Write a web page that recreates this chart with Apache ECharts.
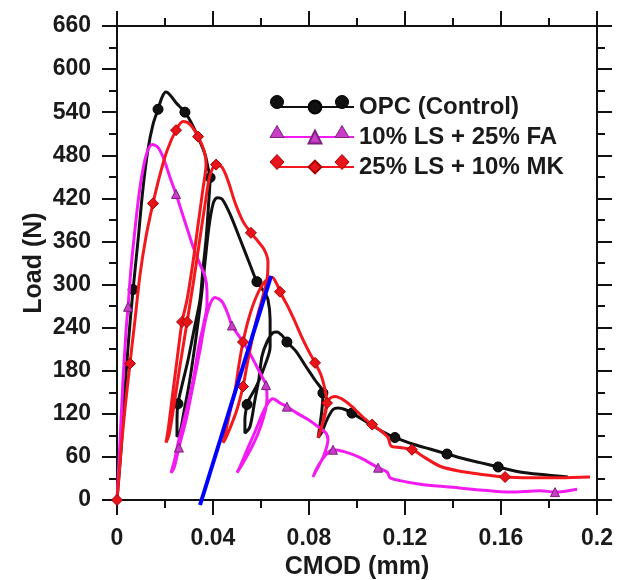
<!DOCTYPE html>
<html><head><meta charset="utf-8">
<script src="https://cdn.jsdelivr.net/npm/echarts@6/dist/echarts.min.js"></script>
<style>html,body{margin:0;padding:0;background:#fff}#c{width:621px;height:580px}</style>
</head><body><div id="c"></div>
<script>
// ---------- data ----------
const seriesNames = ['OPC (Control)', '10% LS + 25% FA', '25% LS + 10% MK'];
const xTickLabels = ['0', '0.04', '0.08', '0.12', '0.16', '0.2'];
const yTickLabels = ['0', '60', '120', '180', '240', '300', '360', '420', '480', '540', '600', '660'];
const xTitle = 'CMOD (mm)';
const yTitle = 'Load (N)';

// OPC (Control): CMOD (mm), Load (N)
const opcCurve = [
  [0,0],[0.0017,70],[0.0033,153],[0.005,230],[0.0067,293],[0.0088,363],[0.0108,433],[0.0129,488],[0.015,523],
  [0.0171,544],[0.0188,561],[0.0204,568],[0.0221,564],[0.0246,553],[0.0283,540],[0.0313,523],[0.0342,502],
  [0.0367,481],[0.0379,463],[0.0388,449],
  [0.0383,419],[0.0371,363],[0.0358,321],[0.0346,279],[0.0321,237],[0.0296,195],[0.0271,160],[0.0254,134],
  [0.025,112],[0.025,88],
  [0.0263,95],[0.0279,123],[0.03,160],[0.0325,216],[0.035,279],[0.0367,332],[0.0383,380],[0.04,412],[0.0417,421],
  [0.0438,419],[0.0471,398],[0.0513,363],[0.0554,328],[0.0583,304],[0.0613,290],[0.0629,279],
  [0.0638,251],[0.0638,213],[0.0617,188],[0.0583,160],[0.055,140],[0.0542,133],[0.0533,112],[0.0533,93],
  [0.0554,102],[0.0575,140],[0.0592,170],[0.0604,200],[0.0625,220],[0.065,233],[0.0667,234],
  [0.0688,229],[0.0708,220],[0.0746,207],[0.0783,188],[0.0825,167],[0.0858,149],
  [0.0854,126],[0.0846,105],[0.0838,87],
  [0.0854,95],[0.0875,112],[0.09,126],[0.0921,128],[0.095,126],[0.0979,121],[0.1033,110],[0.1108,95],
  [0.1158,87],[0.1242,77],[0.1304,71],[0.1375,64],[0.145,57],[0.1513,52],[0.1588,46],[0.1679,39],
  [0.1783,35],[0.1879,32]
];
const opcMarks = [
  [0.0067,293],[0.0171,544],[0.0283,540],[0.0388,449],[0.0254,134],[0.0583,304],[0.0542,133],
  [0.0708,220],[0.0858,149],[0.0979,121],[0.1158,87],[0.1375,64],[0.1588,46]
];

// 10% LS + 25% FA
const lsfaCurve = [
  [0,0],[0.0013,84],[0.0025,167],[0.0038,237],[0.0046,269],[0.0058,321],[0.0075,377],[0.0092,426],
  [0.0108,460],[0.0125,484],[0.0146,495],[0.0171,491],[0.0196,474],[0.0221,449],[0.0246,426],[0.0271,400],
  [0.0296,374],[0.0321,349],[0.0346,328],[0.0367,311],[0.0375,290],[0.0375,272],
  [0.0363,248],[0.0342,216],[0.0317,167],[0.0288,123],[0.0258,84],[0.0238,53],[0.0225,38],
  [0.0238,45],[0.0258,73],[0.0288,112],[0.0317,160],[0.0346,209],[0.0367,248],[0.0388,273],[0.0408,282],
  [0.0438,276],[0.0463,258],[0.0479,243],[0.0513,226],[0.0546,209],[0.0579,188],[0.0604,172],[0.0621,160],
  [0.0625,142],[0.0617,123],[0.0596,100],[0.0567,77],[0.0533,56],[0.0508,42],[0.05,38],
  [0.0513,47],[0.0542,70],[0.0575,95],[0.0604,119],[0.0629,135],[0.065,141],
  [0.0679,135],[0.0708,130],[0.075,121],[0.0796,112],[0.0838,102],[0.0871,93],
  [0.0879,84],[0.0863,63],[0.0838,46],[0.0821,35],[0.0817,32],
  [0.0829,42],[0.0854,56],[0.0879,66],[0.09,70],[0.095,67],[0.1013,59],[0.1088,45],[0.1125,39],
  [0.1138,31],[0.1179,27],[0.1263,22],[0.1388,18],[0.1513,14],[0.1638,11],[0.1763,13],[0.1825,11],[0.1917,15]
];
const lsfaMarks = [
  [0.0046,269],[0.0246,426],[0.0258,73],[0.0479,243],[0.0621,160],[0.0708,130],[0.09,70],[0.1088,45],[0.1825,11]
];

// 25% LS + 10% MK
const lsmkCurve = [
  [0,0],[0.0017,70],[0.0033,126],[0.0054,190],[0.0075,251],[0.0096,314],[0.0121,367],[0.015,413],
  [0.0179,453],[0.0208,486],[0.0246,515],[0.0275,527],[0.0304,523],[0.0338,506],[0.0363,486],[0.0371,467],
  [0.0358,433],[0.0338,384],[0.0317,332],[0.0292,279],[0.0271,248],[0.025,195],[0.0229,140],[0.0213,98],[0.0204,80],
  [0.0217,91],[0.0238,133],[0.0263,188],[0.0292,248],[0.0317,300],[0.0342,356],[0.0367,412],[0.0388,453],[0.0413,467],
  [0.0438,463],[0.0463,444],[0.0492,414],[0.0525,388],[0.0558,372],[0.0588,360],[0.0613,349],[0.0629,332],
  [0.0625,307],[0.0604,279],[0.0579,248],[0.0554,209],[0.0538,181],[0.0525,158],[0.05,126],[0.0471,100],[0.045,84],[0.0442,80],
  [0.045,91],[0.0471,123],[0.0492,153],[0.0508,188],[0.0525,220],[0.055,254],[0.0579,282],[0.0613,303],[0.0646,310],
  [0.0667,300],[0.0679,290],[0.0708,272],[0.0738,251],[0.0767,229],[0.0796,209],[0.0825,191],[0.085,174],[0.0867,153],[0.0875,135],
  [0.0867,119],[0.085,100],[0.0838,87],
  [0.085,98],[0.0867,123],[0.0883,140],[0.0908,144],[0.095,138],[0.0992,126],[0.1029,114],[0.1063,105],[0.1104,95],
  [0.1129,87],[0.1142,75],[0.1179,73],[0.1229,70],[0.1283,59],[0.1346,47],[0.1429,40],[0.1513,36],[0.1617,32],
  [0.1721,31],[0.1846,31],[0.1971,32]
];
const lsmkMarks = [
  [0,0],[0.0054,190],[0.015,413],[0.0246,515],[0.0338,506],[0.0271,248],[0.0292,248],[0.0413,467],[0.0558,372],
  [0.0525,158],[0.0525,220],[0.0679,290],[0.0825,191],[0.0875,135],[0.1063,105],[0.1229,70],[0.1617,32]
];

// straight reference line (blue)
const blueLine = [[0.0346,-7],[0.0642,312]];

// ---------- chart ----------
const FONT = "'Liberation Sans', Arial, Helvetica, sans-serif";
const TXT = '#1a1a1a';
const colors = ['#111111', '#f21cf2', '#f2181e'];
const markFill = ['#111111', '#c83cc8', '#e8141c'];
const markBorder = ['#000000', '#7d1f7d', '#a80000'];
const symbols = ['circle', 'triangle', 'diamond'];
const symSizes = [10, 9, 11];

const axisLineStyle = { color: '#111', width: 2 };
const tickStyle = { width: 2, color: '#111' };
function xAxisCfg(pos, labels) {
  return {
    type: 'value', position: pos, min: 0, max: 0.2, interval: 0.04,
    axisLine: { show: true, onZero: false, lineStyle: axisLineStyle },
    axisTick: { show: true, inside: false, length: 15, lineStyle: tickStyle },
    minorTick: { show: true, splitNumber: 2, length: 8, lineStyle: tickStyle },
    splitLine: { show: false }, minorSplitLine: { show: false },
    axisLabel: labels ? {
      show: true, margin: 27, color: TXT, fontFamily: FONT, fontWeight: 'bold', fontSize: 23,
      formatter: (v, i) => xTickLabels[i]
    } : { show: false },
    name: labels ? xTitle : '', nameLocation: 'middle', nameGap: 55, nameMoveOverlap: false,
    nameTextStyle: { color: TXT, fontFamily: FONT, fontWeight: 'bold', fontSize: 25 }
  };
}
function yAxisCfg(pos, labels) {
  return {
    type: 'value', position: pos, min: 0, max: 660, interval: 60,
    axisLine: { show: true, onZero: false, lineStyle: axisLineStyle },
    axisTick: { show: true, inside: false, length: 15, lineStyle: tickStyle },
    minorTick: { show: true, splitNumber: 2, length: 8, lineStyle: tickStyle },
    splitLine: { show: false }, minorSplitLine: { show: false },
    axisLabel: labels ? {
      show: true, margin: 26, color: TXT, fontFamily: FONT, fontWeight: 'bold', fontSize: 23,
      formatter: (v, i) => yTickLabels[i]
    } : { show: false },
    name: labels ? yTitle : '', nameLocation: 'middle', nameGap: 70, nameRotate: 90, nameMoveOverlap: false,
    nameTextStyle: { color: TXT, fontFamily: FONT, fontWeight: 'bold', fontSize: 25 }
  };
}

const curves = [opcCurve, lsfaCurve, lsmkCurve];
const marks = [opcMarks, lsfaMarks, lsmkMarks];
const series = [];
curves.forEach((c, i) => {
  series.push({
    name: seriesNames[i], type: 'line', data: c, smooth: 0.3,
    symbol: symbols[i], symbolSize: symSizes[i], showSymbol: false,
    lineStyle: { color: colors[i], width: 3 },
    itemStyle: { color: markFill[i], borderColor: markBorder[i], borderWidth: 1 },
    z: 2 + i, silent: true, animation: false
  });
});
marks.forEach((m, i) => {
  series.push({
    name: seriesNames[i], type: 'scatter', data: m,
    symbol: symbols[i], symbolSize: symSizes[i],
    itemStyle: { color: markFill[i], borderColor: markBorder[i], borderWidth: 1, opacity: 1 },
    z: 2 + i, silent: true, animation: false
  });
});
series.push({
  name: 'ref', type: 'line', data: blueLine, symbol: 'none', clip: false,
  lineStyle: { color: '#0000ff', width: 4 }, z: 10, silent: true, animation: false
});

// extra legend end markers (decoration, so each legend line shows three symbols like the original)
const legRows = [102, 132, 162];
const legEnds = [277, 342];
const graphics = [];
legRows.forEach((cy, i) => {
  legEnds.forEach(cx => {
    let el;
    if (i === 0) el = { type: 'circle', shape: { cx: cx, cy: cy, r: 6.5 } };
    else if (i === 1) el = { type: 'polygon', shape: { points: [[cx, cy - 6.5], [cx + 7, cy + 5.5], [cx - 7, cy + 5.5]] } };
    else el = { type: 'polygon', shape: { points: [[cx, cy - 7.5], [cx + 7, cy], [cx, cy + 7.5], [cx - 7, cy]] } };
    el.z = 100;
    el.silent = true;
    el.style = { fill: markFill[i], stroke: markBorder[i], lineWidth: 1 };
    graphics.push(el);
  });
});

const chart = echarts.init(document.getElementById('c'), null, { renderer: 'canvas' });
chart.setOption({
  animation: false,
  backgroundColor: '#ffffff',
  grid: { left: 117, right: 24, top: 26, bottom: 80, containLabel: false, outerBoundsMode: 'none' },
  xAxis: [xAxisCfg('bottom', true), xAxisCfg('top', false)],
  yAxis: [yAxisCfg('left', true), yAxisCfg('right', false)],
  legend: {
    data: seriesNames, orient: 'vertical', left: 270, top: 90,
    itemWidth: 78, itemHeight: 16, itemGap: 6, selectedMode: false,
    textStyle: { color: TXT, fontFamily: FONT, fontWeight: 'bold', fontSize: 24 }
  },
  graphic: graphics,
  series: series
});
</script>
</body></html>
